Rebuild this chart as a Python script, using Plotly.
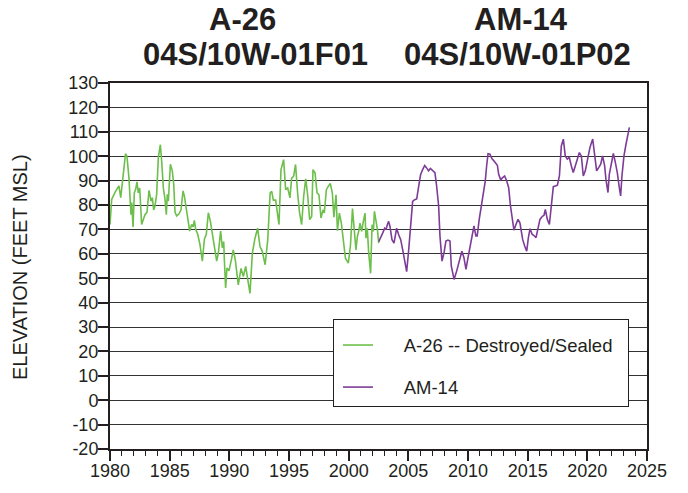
import plotly.graph_objects as go

# A-26 (04S/10W-01F01) -- decimal years and elevations (feet MSL)
a26_years = [1980.00, 1980.14, 1980.45, 1980.75, 1980.90, 1981.10, 1981.30, 1981.42, 1981.59, 1981.70,
             1981.76, 1981.82, 1981.93, 1982.04, 1982.15, 1982.26, 1982.37, 1982.49, 1982.65, 1982.93,
             1983.10, 1983.27, 1983.44, 1983.55, 1983.66, 1983.77, 1983.91, 1984.05, 1984.22, 1984.33,
             1984.47, 1984.61, 1984.72, 1984.80, 1984.89, 1985.06, 1985.22, 1985.34, 1985.45, 1985.59,
             1985.78, 1985.95, 1986.12, 1986.23, 1986.34, 1986.51, 1986.68, 1986.84, 1986.96, 1987.07,
             1987.18, 1987.35, 1987.54, 1987.74, 1987.91, 1988.07, 1988.24, 1988.41, 1988.58, 1988.74,
             1988.94, 1989.08, 1989.27, 1989.41, 1989.53, 1989.58, 1989.69, 1989.80, 1989.97, 1990.19,
             1990.33, 1990.50, 1990.75, 1990.98, 1991.17, 1991.37, 1991.54, 1991.73, 1991.93, 1992.15,
             1992.37, 1992.57, 1992.76, 1993.00, 1993.22, 1993.42, 1993.55, 1993.69, 1993.88, 1994.16,
             1994.33, 1994.55, 1994.72, 1994.89, 1995.08, 1995.22, 1995.39, 1995.55, 1995.72, 1995.89,
             1996.06, 1996.23, 1996.40, 1996.56, 1996.73, 1996.90, 1997.01, 1997.18, 1997.35, 1997.51,
             1997.68, 1997.85, 1997.96, 1998.13, 1998.30, 1998.46, 1998.63, 1998.76, 1998.86, 1998.94,
             1999.06, 1999.22, 1999.39, 1999.56, 1999.73, 1999.97, 2000.15, 2000.32, 2000.50, 2000.61,
             2000.73, 2000.84, 2000.95, 2001.09, 2001.23, 2001.37, 2001.45, 2001.56, 2001.68, 2001.84,
             2001.96, 2002.07, 2002.16, 2002.30, 2002.41, 2002.52]
a26_values = [72, 82.3, 85.5, 87.8, 83, 91, 101, 100, 91, 81,
              76, 81, 71, 85, 86.4, 89.5, 85, 87, 72, 76,
              77, 86, 81.6, 83, 78, 79.6, 84.4, 99.5, 104.7, 98,
              87, 82.3, 76, 84.4, 81.6, 96.7, 94, 88.5, 77, 75.5,
              76.4, 78, 85.8, 83.7, 79.6, 74, 69.3, 72, 71, 73.7,
              70, 68, 63.8, 57, 66, 68, 76.8, 73.4, 68, 61.8,
              57, 60.4, 69.3, 62.5, 65, 58, 46, 54.2, 53, 58,
              61.6, 57.5, 47.3, 54, 50.7, 54.8, 50, 43.8, 60.3, 66.4,
              70.5, 63, 61, 55.5, 65.8, 85, 85.6, 82, 82, 72,
              94.5, 98.6, 86.3, 87, 82.9, 91, 91.8, 96.6, 85, 76.7,
              72, 83.6, 90.7, 84.2, 74, 75.3, 94.5, 93.2, 85, 84.2,
              74.7, 78, 76.7, 86.3, 87.7, 88.8, 85, 75, 80, 84.2,
              69.5, 76.7, 72.5, 65, 58.2, 56.2, 63.5, 78.5, 65.8, 61.6,
              67.1, 69.2, 72.6, 69.2, 73.3, 76.7, 66.4, 70.5, 60.3, 52,
              71.9, 69.2, 77.4, 73.3, 69.9, 64.4]

# AM-14 (04S/10W-01P02)
am14_years = [2002.52, 2002.68, 2002.85, 2003.02, 2003.13, 2003.24, 2003.35, 2003.46, 2003.63, 2003.80,
              2003.91, 2004.02, 2004.19, 2004.36, 2004.53, 2004.69, 2004.86, 2005.03, 2005.20, 2005.36,
              2005.53, 2005.70, 2005.87, 2006.03, 2006.20, 2006.37, 2006.53, 2006.70, 2006.85, 2007.05,
              2007.23, 2007.37, 2007.54, 2007.65, 2007.82, 2007.99, 2008.15, 2008.32, 2008.49, 2008.60,
              2008.83, 2009.05, 2009.27, 2009.49, 2009.66, 2009.83, 2010.00, 2010.17, 2010.33, 2010.50,
              2010.66, 2010.77, 2010.94, 2011.11, 2011.28, 2011.45, 2011.56, 2011.68, 2011.84, 2012.00,
              2012.23, 2012.46, 2012.57, 2012.74, 2012.90, 2013.07, 2013.24, 2013.41, 2013.55, 2013.70,
              2013.85, 2014.02, 2014.19, 2014.35, 2014.58, 2014.75, 2014.92, 2015.06, 2015.20, 2015.37,
              2015.53, 2015.70, 2015.87, 2016.03, 2016.20, 2016.37, 2016.48, 2016.65, 2016.82, 2016.99,
              2017.15, 2017.32, 2017.49, 2017.66, 2017.82, 2017.99, 2018.15, 2018.32, 2018.49, 2018.66,
              2018.82, 2018.99, 2019.16, 2019.33, 2019.50, 2019.66, 2019.83, 2020.00, 2020.22, 2020.45,
              2020.61, 2020.78, 2020.95, 2021.12, 2021.28, 2021.45, 2021.56, 2021.73, 2021.84, 2022.01,
              2022.18, 2022.35, 2022.51, 2022.68, 2022.79, 2022.90, 2023.07, 2023.24, 2023.41, 2023.52]
am14_values = [65, 66.4, 68.5, 70.5, 69.9, 71.9, 73.3, 71.2, 65.8, 64.4,
               67.8, 70.5, 67.8, 65.8, 61.6, 57.5, 52.7, 61.6, 72.6, 81.5,
               82.2, 82.5, 87.7, 92.5, 94.5, 96.2, 95.2, 94, 95, 94.2,
               93.3, 87.8, 79.6, 67.3, 57, 60.4, 65.2, 65.6, 65.2, 55,
               49.5, 52.9, 57, 61.1, 58.4, 53.6, 58.4, 63.2, 67.3, 71.4,
               67.3, 67.3, 74.1, 79.6, 85, 89.9, 96, 101, 100.8, 99,
               97.7, 96.3, 92.6, 90.3, 91.2, 91.9, 89.9, 87.1, 80, 74,
               69.7, 72, 74.1, 72.7, 65.9, 63.2, 61.1, 66.6, 70.3, 68,
               67.5, 66.6, 70, 74.1, 75.2, 75.8, 78.2, 74.1, 72, 79.6,
               87.5, 87.8, 88.1, 91.9, 104.2, 107, 100.1, 98.8, 99.5, 96,
               93.3, 96, 98.8, 101.5, 100.1, 91.9, 94, 98.8, 103.6, 107,
               101.5, 94, 95.3, 96.7, 100.1, 96, 90.5, 85.1, 92.6, 97.4,
               101.1, 97.4, 93.3, 87.1, 83.7, 91.9, 100.1, 104.9, 108.4, 111.8]

series_names = ["A-26 -- Destroyed/Sealed", "AM-14"]
series_colors = ["#6cbf4a", "#7d3c98"]
title_lines = [("A-26", "04S/10W-01F01"), ("AM-14", "04S/10W-01P02")]
y_title = "ELEVATION (FEET MSL)"
y_tick_vals = list(range(-20, 131, 10))
y_tick_text = [str(v) for v in y_tick_vals]   # plain hyphen-minus like the reference

TXT = "#231f20"
FONT = "Liberation Sans, Arial, sans-serif"
PAD = "&nbsp;&nbsp;&nbsp;&nbsp;&nbsp;"
TAIL = "&nbsp;&nbsp;"

fig = go.Figure()
fig.add_trace(go.Scatter(x=a26_years, y=a26_values, mode="lines", name=PAD + series_names[0] + TAIL,
                         line=dict(color=series_colors[0], width=1.6), legendgroup="a"))
fig.add_trace(go.Scatter(x=am14_years, y=am14_values, mode="lines", name=PAD + series_names[1],
                         line=dict(color=series_colors[1], width=1.6), legendgroup="b"))

L, R, T, B = 110, 41, 83, 44
W, H = 688, 493
pw, ph = W - L - R, H - T - B

def px_x(p):
    return (p - L) / pw

def px_y(p):
    return (H - B - p) / ph

fig.update_layout(
    width=W, height=H,
    margin=dict(l=L, r=R, t=T, b=B, autoexpand=False),
    paper_bgcolor="white", plot_bgcolor="white",
    font=dict(family=FONT, color=TXT, size=18),
    showlegend=True,
    legend=dict(x=px_x(333), y=px_y(319), xanchor="left", yanchor="top",
                bgcolor="white", bordercolor="#231f20", borderwidth=1,
                font=dict(size=18.5, color=TXT), traceorder="grouped", tracegroupgap=15,
                indentation=4, title=dict(text=" ", font=dict(size=5))),
    xaxis=dict(range=[1980, 2025], tickmode="linear", tick0=1980, dtick=5, automargin=False,
               ticks="outside", ticklen=10, tickwidth=1.5, tickcolor="#231f20",
               ticklabelstandoff=-6,
               showgrid=False, zeroline=False, showline=True, linecolor="#231f20",
               linewidth=2, mirror=True, tickfont=dict(size=18, color=TXT),
               minor=dict(dtick=1, ticks="outside", ticklen=5, tickwidth=1.2,
                          tickcolor="#231f20", showgrid=False)),
    yaxis=dict(range=[-20, 130], tickmode="array", tickvals=y_tick_vals, ticktext=y_tick_text,
               automargin=False, ticklabelstandoff=-4,
               ticks="outside", ticklen=10, tickwidth=1.5, tickcolor="#231f20",
               showgrid=True, gridcolor="#333333", gridwidth=1.2, zeroline=False,
               showline=True, linecolor="#231f20", linewidth=2, mirror=True,
               tickfont=dict(size=18, color=TXT)),
)

# Titles
title_pos = [((242.5, 20), (255, 55)), ((521, 20), (517, 55))]
for (l1, l2), ((x1, y1), (x2, y2)) in zip(title_lines, title_pos):
    for txt, xx, yy in ((l1, x1, y1), (l2, x2, y2)):
        fig.add_annotation(text=f"<b>{txt}</b>", xref="paper", yref="paper",
                           x=px_x(xx), y=px_y(yy), xanchor="center", yanchor="middle",
                           showarrow=False, font=dict(size=31, color=TXT, family=FONT))

fig.add_annotation(text=y_title, xref="paper", yref="paper", x=px_x(20), y=px_y(267),
                   xanchor="center", yanchor="middle", textangle=-90, showarrow=False,
                   font=dict(size=20, color=TXT, family=FONT))

fig.write_html("out.html", config={"displayModeBar": False},
               post_script="document.body.style.margin='0';document.body.style.padding='0';")
